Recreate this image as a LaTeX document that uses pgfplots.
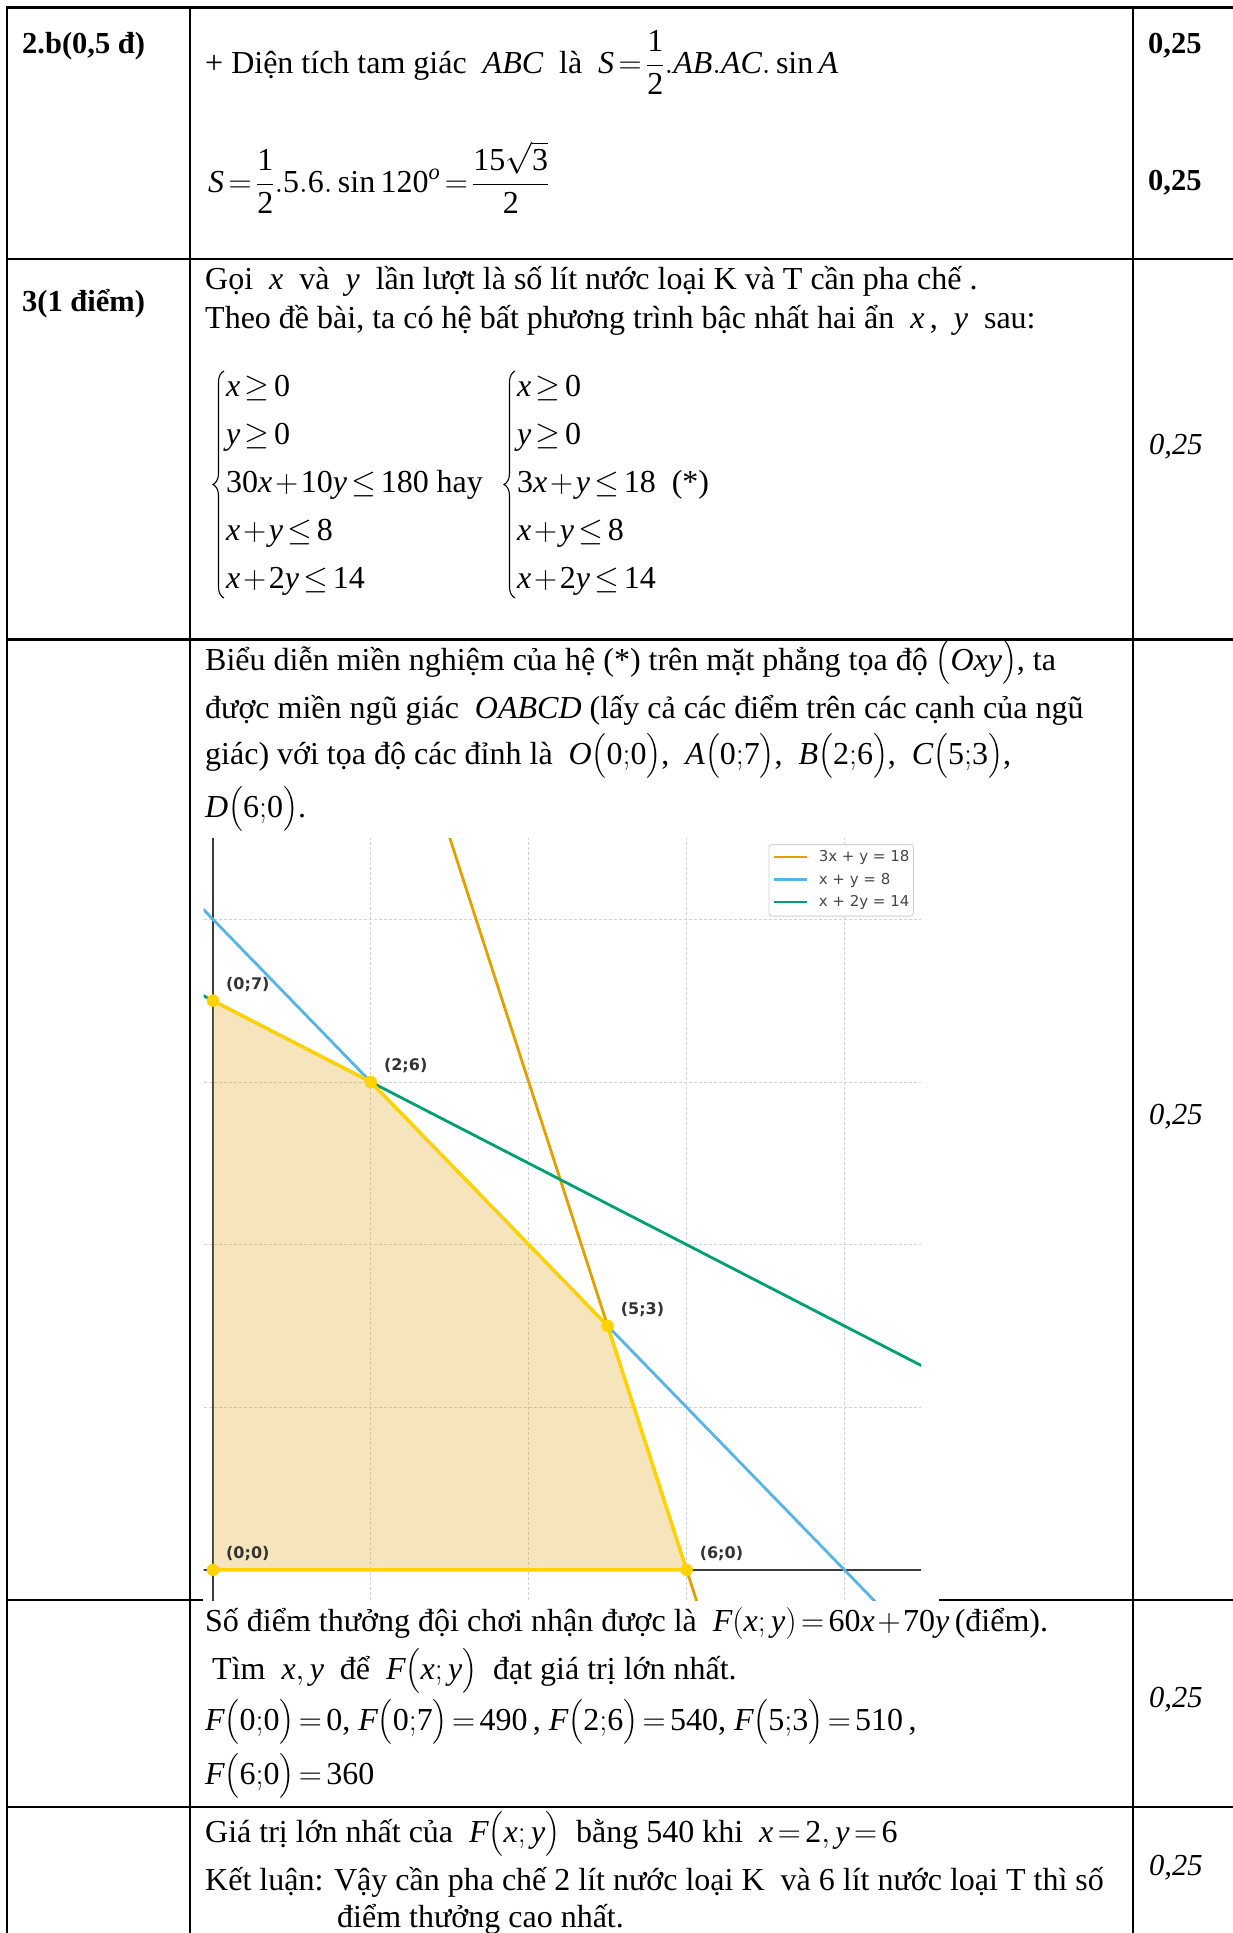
\RequirePackage{fix-cm}
\documentclass[border=0pt]{standalone}
\usepackage{amsmath}
\usepackage{fontspec}
\setmainfont{Liberation Serif}
\newfontfamily\dejavu{DejaVu Sans}
\usepackage{pgfplots}
\pgfplotsset{compat=1.18}
\usetikzlibrary{decorations.pathreplacing}

\definecolor{cOrange}{HTML}{E69F00}
\definecolor{cBlue}{HTML}{56B4E9}
\definecolor{cGreen}{HTML}{009E73}
\definecolor{cGold}{HTML}{FFD200}
\definecolor{cFill}{HTML}{E1A520}
\definecolor{cAxis}{HTML}{3C3C3C}
\definecolor{cLab}{HTML}{333333}
\newcommand\mi[1]{\mathit{#1}}
\newcommand\n[1]{\mathrm{#1}}
\newcommand\pt[2]{\bigl(\n{#1}{;}\n{#2}\bigr)}
% tighter math spacing, closer to the equation editor look
\thickmuskip=2.5mu
\medmuskip=1.5mu

\begin{document}
\begin{tikzpicture}[
  txt/.style={anchor=base west, inner sep=0pt, font=\fontsize{32}{38}\selectfont},
  num/.style={anchor=base west, inner sep=0pt, font=\fontsize{30.5}{36}\selectfont},
  lab/.style={anchor=base west, inner sep=0pt, text=cLab, font=\dejavu\bfseries\fontsize{16}{19}\selectfont, xshift=13pt, yshift=11pt}]
\path[use as bounding box] (0pt,0pt) rectangle (1233pt,-1933pt);

\begin{scope}[x=1pt,y=1pt]
% table rules
\begin{scope}[line width=2.2pt]
  \draw (6,-7.5) -- (1233,-7.5);
  \draw (6,-259) -- (1233,-259);
  \draw (6,-639.5) -- (1233,-639.5);
  \draw (6,-1600) -- (203,-1600);
  \draw (939,-1600) -- (1233,-1600);
  \draw (6,-1807) -- (1233,-1807);
  \draw (7,-6.4) -- (7,-1940);
  \draw (190,-6.4) -- (190,-1940);
  \draw (1133,-6.4) -- (1133,-1940);
\end{scope}

% row 2.b
\node[num] at (22,-53) {\bfseries 2.b(0,5 đ)};
\node[num] at (1148,-53) {\bfseries 0,25};
\node[num] at (1148,-190) {\bfseries 0,25};
\node[txt] at (205,-73) {+ Diện tích tam giác\ \ $\mi{ABC}$\ \ là\ \ $\mi{S}=\dfrac{\n{1}}{\n{2}}.\mi{AB}.\mi{AC}.\sin\mi{A}$};
\node[txt] at (208,-192) {$\mi{S}=\dfrac{\n{1}}{\n{2}}.\n{5}.\n{6}.\sin\n{120}^{\mi{o}}=\dfrac{\n{15}\sqrt{\n{3}}}{\n{2}}$};

% row 3
\node[num] at (22,-311) {\bfseries 3(1 điểm)};
\node[txt] at (205,-289) {Gọi\ \ $\mi{x}$\ \ và\ \ $\mi{y}$\ \ lần lượt là số lít nước loại K và T cần pha chế .};
\node[txt] at (205,-328) {Theo đề bài, ta có hệ bất phương trình bậc nhất hai ẩn\ \ $\mi{x}$\,,\ \ $\mi{y}$\ \ sau:};
\node[txt] at (226,-396) {$\mi{x}\geq\n{0}$};
\node[txt] at (226,-444) {$\mi{y}\geq\n{0}$};
\node[txt] at (226,-492) {$\n{30}\mi{x}+\n{10}\mi{y}\leq\n{180}$\ hay};
\node[txt] at (226,-540) {$\mi{x}+\mi{y}\leq\n{8}$};
\node[txt] at (226,-588) {$\mi{x}+\n{2}\mi{y}\leq\n{14}$};
\node[txt] at (517,-396) {$\mi{x}\geq\n{0}$};
\node[txt] at (517,-444) {$\mi{y}\geq\n{0}$};
\node[txt] at (517,-492) {$\n{3}\mi{x}+\mi{y}\leq\n{18}$\ \ (*)};
\node[txt] at (517,-540) {$\mi{x}+\mi{y}\leq\n{8}$};
\node[txt] at (517,-588) {$\mi{x}+\n{2}\mi{y}\leq\n{14}$};
\draw[line width=1.1pt, decorate, decoration={brace, amplitude=11pt}] (224,-598) -- (224,-371);
\draw[line width=1.1pt, decorate, decoration={brace, amplitude=11pt}] (515,-598) -- (515,-371);
\node[num] at (1149,-454) {\itshape 0,25};

% row graph text
\node[txt] at (205,-670) {Biểu diễn miền nghiệm của hệ (*) trên mặt phẳng tọa độ $\bigl(\mi{Oxy}\bigr)$, ta};
\node[txt] at (205,-718) {được miền ngũ giác\ \ $\mi{OABCD}$ (lấy cả các điểm trên các cạnh của ngũ};
\node[txt] at (205,-764) {giác) với tọa độ các đỉnh là\ \ $\mi{O}\pt{0}{0}$,\ \ $\mi{A}\pt{0}{7}$,\ \ $\mi{B}\pt{2}{6}$,\ \ $\mi{C}\pt{5}{3}$,};
\node[txt] at (205,-817) {$\mi{D}\pt{6}{0}$.};
\node[num] at (1149,-1124) {\itshape 0,25};

% row F
\node[txt] at (205,-1631) {Số điểm thưởng đội chơi nhận được là\ \ $\mi{F}(\mi{x};\mi{y})=\n{60}\mi{x}+\n{70}\mi{y}$\,(điểm).};
\node[txt] at (212,-1679) {Tìm\ \ $\mi{x},\mi{y}$\ \ để\ \ $\mi{F}\bigl(\mi{x};\mi{y}\bigr)$\ \ đạt giá trị lớn nhất.};
\node[txt] at (205,-1730) {$\mi{F}\pt{0}{0}=\n{0}$,\ $\mi{F}\pt{0}{7}=\n{490}$\,,\ $\mi{F}\pt{2}{6}=\n{540}$,\ $\mi{F}\pt{5}{3}=\n{510}$\,,};
\node[txt] at (205,-1784) {$\mi{F}\pt{6}{0}=\n{360}$};
\node[num] at (1149,-1707) {\itshape 0,25};

% row conclusion
\node[txt] at (205,-1842) {Giá trị lớn nhất của\ \ $\mi{F}\bigl(\mi{x};\mi{y}\bigr)$\ \ bằng 540 khi\ \ $\mi{x}=\n{2},\mi{y}=\n{6}$};
\node[txt] at (205,-1890) {Kết luận: Vậy cần pha chế 2 lít nước loại K\ \ và 6 lít nước loại T thì số};
\node[txt] at (337,-1927) {điểm thưởng cao nhất.};
\node[num] at (1149,-1875) {\itshape 0,25};
\end{scope}

\begin{axis}[
  at={(203.5pt,-1600pt)}, anchor=south west,
  scale only axis, width=717.5pt, height=762pt,
  xmin=-0.12, xmax=8.97, ymin=-0.37, ymax=9,
  axis line style={draw=none},
  xtick={0,2,4,6,8}, ytick={0,2,4,6,8},
  xticklabels={}, yticklabels={},
  major tick length=0pt,
  grid=major,
  grid style={densely dashed, line width=0.9pt, color=black!18},
  legend style={at={(0.990,0.992)}, anchor=north east,
    draw=black!18, line width=0.9pt, rounded corners=3pt, fill=white,
    inner xsep=4pt, inner ysep=6pt, row sep=8pt,
    font=\dejavu\fontsize{15}{18}\selectfont, text=black!72,
    nodes={inner sep=0pt, text height=11pt, text depth=3.5pt, anchor=base west},
    /tikz/every odd column/.append style={column sep=10pt}},
  legend cell align=left,
  legend image code/.code={\draw[#1, line width=2.8pt] (0pt,4.5pt) -- (33pt,4.5pt);},
]
% axes through the origin
\addplot[cAxis, line width=2pt, forget plot] coordinates {(0,-1) (0,10)};
\addplot[cAxis, line width=2pt, forget plot] coordinates {(-1,0) (10,0)};

% boundary lines
\addplot[cOrange, line width=2.8pt] coordinates {(2.8,9.6) (6.3,-0.9)};
\addlegendentry{3x + y = 18}
\addplot[cBlue, line width=2.8pt] coordinates {(-0.6,8.6) (8.8,-0.8)};
\addlegendentry{x + y = 8}
\addplot[cGreen, line width=2.8pt] coordinates {(-0.6,7.3) (9.2,2.4)};
\addlegendentry{x + 2y = 14}

% feasible region
\addplot[draw=none, fill=cFill, fill opacity=0.3, forget plot] coordinates {(0,0) (0,7) (2,6) (5,3) (6,0)} -- cycle;
\addplot[cGold, line width=3.4pt, line join=round, forget plot] coordinates {(0,7) (2,6) (5,3) (6,0) (0,0)};
\addplot[only marks, mark=*, mark size=6pt, mark options={draw=cGold, fill=cGold}, forget plot] coordinates {(0,0) (0,7) (2,6) (5,3) (6,0)};

\node[lab] at (axis cs:0,7) {(0;7)};
\node[lab] at (axis cs:2,6) {(2;6)};
\node[lab] at (axis cs:5,3) {(5;3)};
\node[lab] at (axis cs:0,0) {(0;0)};
\node[lab] at (axis cs:6,0) {(6;0)};
\end{axis}
\end{tikzpicture}
\end{document}
